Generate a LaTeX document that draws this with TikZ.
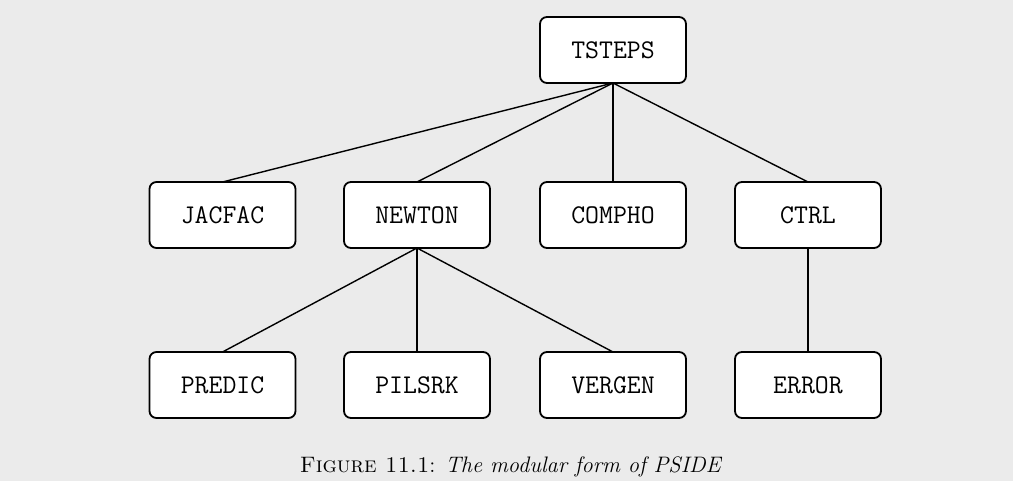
\documentclass[tikz,border=0pt]{standalone}
\usepackage{fontspec}

\def \globalscale {1.000000}

\tikzset{
  module/.style={draw=black,fill=white,line join=round,line width=0.9pt,rounded corners=3.5pt,
    minimum width=73pt,minimum height=33pt,inner sep=0pt,font=\fontsize{13.5}{16}\selectfont\ttfamily},
  link/.style={draw=black,line join=round,line width=0.7pt}
}

\begin{document}
\begin{tikzpicture}[y=0.50pt, x=0.50pt, yscale=-\globalscale, xscale=\globalscale, inner sep=0pt, outer sep=0pt]
\path[fill=black!8] (0.0000,0.0000) rectangle (1013.0000,481.0000);
\useasboundingbox (0.0000,0.0000) rectangle (1013.0000,481.0000);



\node[module] (tsteps) at (613.0000,50.0000) {TSTEPS};



\node[module] (jacfac) at (222.5000,215.0000) {JACFAC};



\node[module] (newton) at (417.0000,215.0000) {NEWTON};



\node[module] (compho) at (613.0000,215.0000) {COMPHO};



\node[module] (ctrl) at (808.0000,215.0000) {CTRL};



\node[module] (predic) at (222.5000,385.0000) {PREDIC};



\node[module] (pilsrk) at (417.0000,385.0000) {PILSRK};



\node[module] (vergen) at (613.0000,385.0000) {VERGEN};



\node[module] (error) at (808.0000,385.0000) {ERROR};



\path[link] (tsteps.south) -- (jacfac.north);



\path[link] (tsteps.south) -- (newton.north);



\path[link] (tsteps.south) -- (compho.north);



\path[link] (tsteps.south) -- (ctrl.north);



\path[link] (newton.south) -- (predic.north);



\path[link] (newton.south) -- (pilsrk.north);



\path[link] (newton.south) -- (vergen.north);



\path[link] (ctrl.south) -- (error.north);



\node[font=\fontsize{11.2}{13}\selectfont] (caption) at (511.0000,467.0000) {\textsc{Figure 11.1}: \textit{The modular form of PSIDE}};




\end{tikzpicture}
\end{document}
